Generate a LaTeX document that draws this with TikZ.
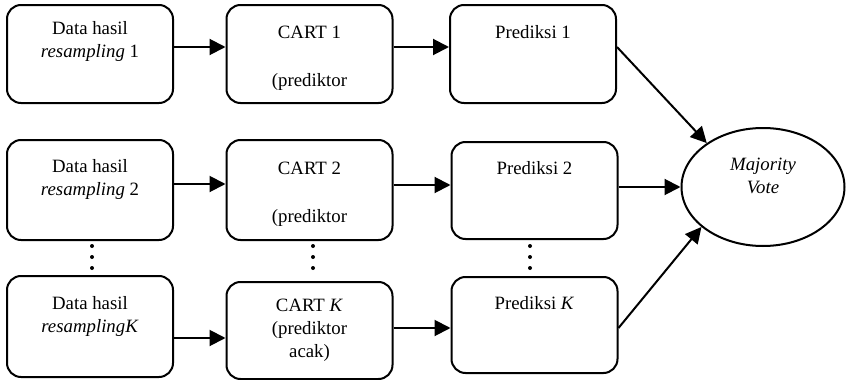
\documentclass[tikz,border=0pt]{standalone}
\usepackage{fontspec}
\setmainfont{Liberation Serif}
\usetikzlibrary{shapes.geometric, arrows.meta}

\begin{document}
\begin{tikzpicture}[x=0.5pt,y=-0.5pt,
	kotak/.style={draw, line width=1pt, rounded corners=7pt, inner sep=0pt, minimum width=83pt},
	teks/.style={font=\fontsize{9.4}{11.5}\selectfont, align=center, inner sep=0pt},
	panah/.style={line width=1pt, -{Triangle[length=8pt,width=8pt]}}]
\useasboundingbox (0,0) rectangle (848,380);
	% kotak data hasil resampling
	\node[kotak, minimum height=49pt] (A1) at (90,54) {};
	\node[kotak, minimum height=50pt] (A2) at (90,190) {};
	\node[kotak, minimum height=50.5pt] (A3) at (90,326.5) {};
	% kotak CART
	\node[kotak, minimum height=49pt] (B1) at (309.5,54) {};
	\node[kotak, minimum height=50pt] (B2) at (309.5,190) {};
	\node[kotak, minimum height=48.5pt] (B3) at (309.5,330.5) {};
	% kotak prediksi
	\node[kotak, minimum height=49pt] (C1) at (533,54) {};
	\node[kotak, minimum height=48.5pt] (C2) at (534.5,190.5) {};
	\node[kotak, minimum height=48pt] (C3) at (534.5,325) {};
	\node[draw, ellipse, line width=1pt, minimum width=81.5pt, minimum height=59pt] (MV) at (763,187) {};
	% teks
	\node[teks] (tA1) at (90,41.5) {Data hasil\\\textit{resampling} 1};
	\node[teks] (tA2) at (90,179) {Data hasil\\\textit{resampling} 2};
	\node[teks] (tA3) at (90,316) {Data hasil\\\textit{resamplingK}};
	\node[teks] (tB1) at (309.5,32) {CART 1};
	\node[teks] (tB1b) at (309.5,82) {(prediktor};
	\node[teks] (tB2) at (309.5,168) {CART 2};
	\node[teks] (tB2b) at (309.5,218) {(prediktor};
	\node[teks] (tB3) at (309.5,330.5) {CART \textit{K}\\(prediktor\\acak)};
	\node[teks] (tC1) at (533,32) {Prediksi 1};
	\node[teks] (tC2) at (534.5,168) {Prediksi 2};
	\node[teks] (tC3) at (534.5,303) {Prediksi \textit{K}};
	\node[teks] (tMV) at (763,176) {\textit{Majority}\\\textit{Vote}};
	% titik-titik
	\foreach \x in {92,313,530}
		\foreach \y in {246,257,268}
			\fill[color=black] (\x,\y) circle(1pt);
	% panah
	\draw[panah] (A1.east |- 0,47) -- (B1.west |- 0,47);
	\draw[panah] (B1.east |- 0,47) -- (C1.west |- 0,47);
	\draw[panah] (A2.east |- 0,184) -- (B2.west |- 0,184);
	\draw[panah] (B2.east |- 0,185) -- (C2.west |- 0,185);
	\draw[panah] (A3.east |- 0,338) -- (B3.west |- 0,338);
	\draw[panah] (B3.east |- 0,328) -- (C3.west |- 0,328);
	\draw[panah] ([yshift=3.5pt]C1.east) -- (MV.142);
	\draw[panah] (C2.east |- MV.west) -- (MV.west);
	\draw[panah] ([yshift=-1.5pt]C3.east) -- (MV.213);
\end{tikzpicture}
\end{document}
